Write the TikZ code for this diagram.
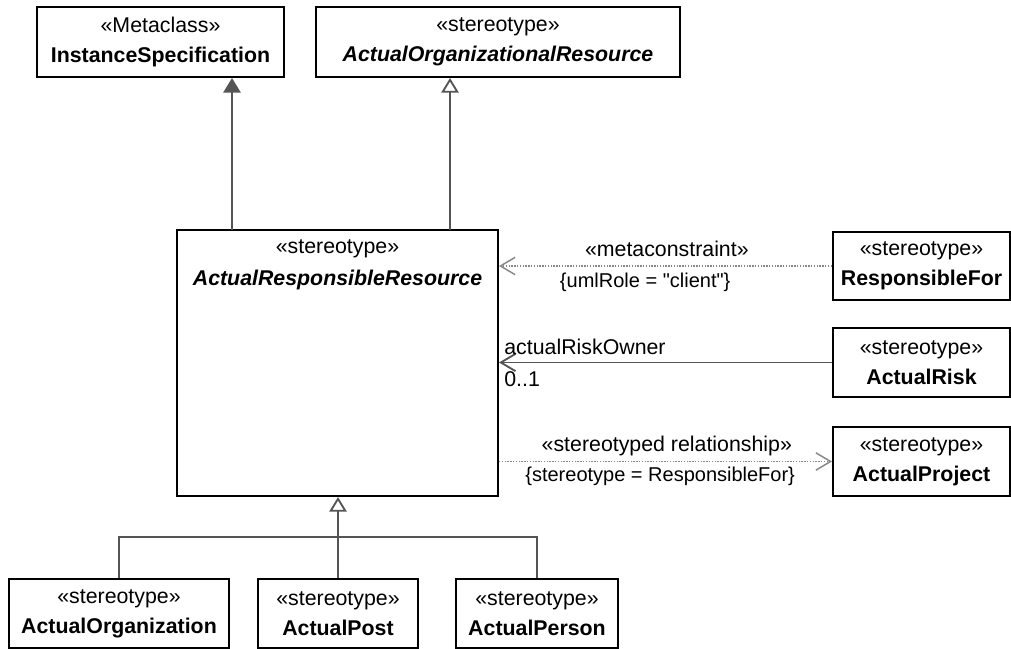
\documentclass[tikz,border=0pt]{standalone}
\usepackage{fontspec}
\setmainfont{Liberation Sans}
\usetikzlibrary{arrows.meta,positioning,calc}
\definecolor{linegray}{RGB}{85,85,85}
\definecolor{dotgray}{RGB}{135,135,135}

\begin{document}
\begin{tikzpicture}[x=0.75pt,y=-0.75pt,
    cls/.style={draw=black,line width=1.5pt,fill=white,align=center,
                font=\fontsize{16}{22.5}\selectfont,inner sep=2pt},
    rbox/.style={cls,minimum width=132.75pt,minimum height=51.5pt},
    lbl/.style={font=\fontsize{16}{19}\selectfont},
    cns/.style={font=\fontsize{15}{18}\selectfont},
    gen/.style={draw=linegray,line width=1.4pt,
                -{Triangle[open,length=11pt,width=13pt,fill=white]}},
    ext/.style={draw=linegray,line width=1.4pt,
                -{Triangle[length=11pt,width=13pt]}},
    assoc/.style={draw=linegray,line width=1.4pt,
                -{Straight Barb[length=11pt,width=13pt]}},
    dep/.style={draw=dotgray,line width=1.1pt,densely dotted,
                -{Straight Barb[length=11pt,width=13pt]}}]
  \useasboundingbox (0,0) rectangle (1011,649);

  % metaclass and parent stereotype
  \node[cls,minimum width=185.25pt,minimum height=52.5pt] (inst) at (160.5,42)
    {«Metaclass»\\\textbf{InstanceSpecification}};
  \node[cls,minimum width=273pt,minimum height=52.5pt] (aor) at (498,42)
    {«stereotype»\\\textbf{\textit{ActualOrganizationalResource}}};

  % central stereotype
  \node[cls,minimum width=240.75pt,minimum height=199.5pt] (arr) at (337.5,363) {};
  \node[anchor=north,align=center,font=\fontsize{16}{24}\selectfont,inner sep=0pt]
    (arrtitle) at ([yshift=-8pt]arr.north)
    {«stereotype»\\\textbf{\textit{ActualResponsibleResource}}};

  % related stereotypes
  \node[rbox] (rf) at (921.5,266) {«stereotype»\\\textbf{ResponsibleFor}};
  \node[rbox] (ar) at (921.5,362.5) {«stereotype»\\\textbf{ActualRisk}};
  \node[rbox] (ap) at (921.5,461.5) {«stereotype»\\\textbf{ActualProject}};

  % specialisations
  \node[cls,minimum width=165pt,minimum height=51.75pt] (aorg) at (119,613.5)
    {«stereotype»\\\textbf{ActualOrganization}};
  \node[cls,minimum width=120pt,minimum height=51.75pt] (apost) at (338,613.5)
    {«stereotype»\\\textbf{ActualPost}};
  \node[cls,minimum width=121.5pt,minimum height=51.75pt] (aper) at (537,613.5)
    {«stereotype»\\\textbf{ActualPerson}};

  % upward links
  \coordinate (extfoot) at (232,230);
  \coordinate (genfoot) at (450,230);
  \draw[ext] (extfoot) -- (extfoot |- inst.south);
  \draw[gen] (genfoot) -- (genfoot |- aor.south);

  % generalisation tree
  \coordinate (genbar) at (338,537);
  \draw[linegray,line width=1.4pt] (aorg.north) |- (genbar) -| (aper.north);
  \draw[gen] (apost.north) -- (apost.north |- arr.south);

  % right hand relations
  \draw[dep] (rf.west) -- (rf.west -| arr.east)
    node[lbl,pos=0.496,above=3pt] (mclbl) {«metaconstraint»}
    node[cns,pos=0.561,below=1pt] (mccons) {\{umlRole = \textquotedbl client\textquotedbl\}};
  \draw[assoc] (ar.west) -- (ar.west -| arr.east)
    node[lbl,pos=1,above right,yshift=2pt] (rolelbl) {actualRiskOwner}
    node[lbl,pos=1,below right,yshift=-3pt] (multlbl) {0..1};
  \draw[dep] (ap.west -| arr.east) -- (ap.west)
    node[lbl,pos=0.504,above] (srlbl) {«stereotyped relationship»}
    node[cns,pos=0.484,below] (srcons) {\{stereotype = ResponsibleFor\}};
\end{tikzpicture}
\end{document}
